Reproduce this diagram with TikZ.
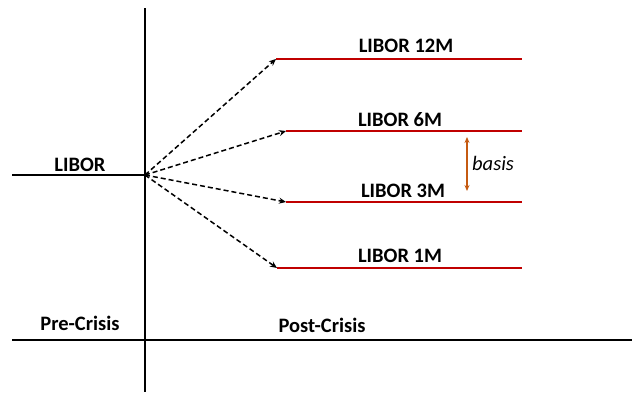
\documentclass[tikz,border=0pt]{standalone}
\usepackage{fontspec}
\setmainfont{Carlito}
\usetikzlibrary{arrows.meta}
\definecolor{liborred}{RGB}{192,0,0}
\definecolor{basisorange}{RGB}{197,90,17}

\begin{document}
\begin{tikzpicture}[x=1pt, y=-1pt,
      axis/.style={line width=2pt},
      rate/.style={liborred, line width=2.4pt},
      split/.style={dash pattern=on 5pt off 3pt, line width=1.5pt, -{Stealth[length=7pt,width=6pt]}},
      tag/.style={font=\fontsize{20.5}{24}\selectfont\bfseries, inner sep=0pt}
    ]
    \useasboundingbox (0,0) rectangle (632,394);
    % axes
    \coordinate (top) at (145,8);
    \coordinate (bottom) at (145,392);
    \coordinate (left) at (12,340);
    \coordinate (right) at (632,340);
    \draw[axis] (top) -- (bottom);
    \draw[axis] (left) -- (right);
    \node[tag] (pre) at (80,323) {Pre-Crisis};
    \node[tag] (post) at (322,325) {Post-Crisis};
    % single rate before
    \coordinate (libstart) at (12,175);
    \coordinate (origin) at (145,175);
    \draw[axis] (libstart) -- (origin);
    \node[tag] (libor) at (80,165) {LIBOR};
    % tenor curves after
    \coordinate (m12a) at (276,59);  \coordinate (m12b) at (522,59);
    \coordinate (m6a) at (286,131);  \coordinate (m6b) at (522,131);
    \coordinate (m3a) at (286,202);  \coordinate (m3b) at (522,202);
    \coordinate (m1a) at (277,268);  \coordinate (m1b) at (522,268);
    \draw[rate] (m12a) -- (m12b);
    \draw[rate] (m6a) -- (m6b);
    \draw[rate] (m3a) -- (m3b);
    \draw[rate] (m1a) -- (m1b);
    \node[tag] (l12) at (406,46) {LIBOR 12M};
    \node[tag] (l6) at (400,120) {LIBOR 6M};
    \node[tag] (l3) at (403,191) {LIBOR 3M};
    \node[tag] (l1) at (400,256) {LIBOR 1M};
    \draw[split] (origin) -- (m12a);
    \draw[split] (origin) -- (m6a);
    \draw[split] (origin) -- (m3a);
    \draw[split] (origin) -- (m1a);
    % spread
    \coordinate (btop) at (467,137);
    \coordinate (bbot) at (467,191);
    \draw[basisorange, line width=1.3pt, {Stealth[length=6pt,width=5pt]}-{Stealth[length=6pt,width=5pt]}] (btop) -- (bbot);
    \node[font=\fontsize{20.5}{24}\selectfont\itshape, inner sep=0pt, anchor=base west] (basis) at (472,170) {basis};
\end{tikzpicture}
\end{document}
